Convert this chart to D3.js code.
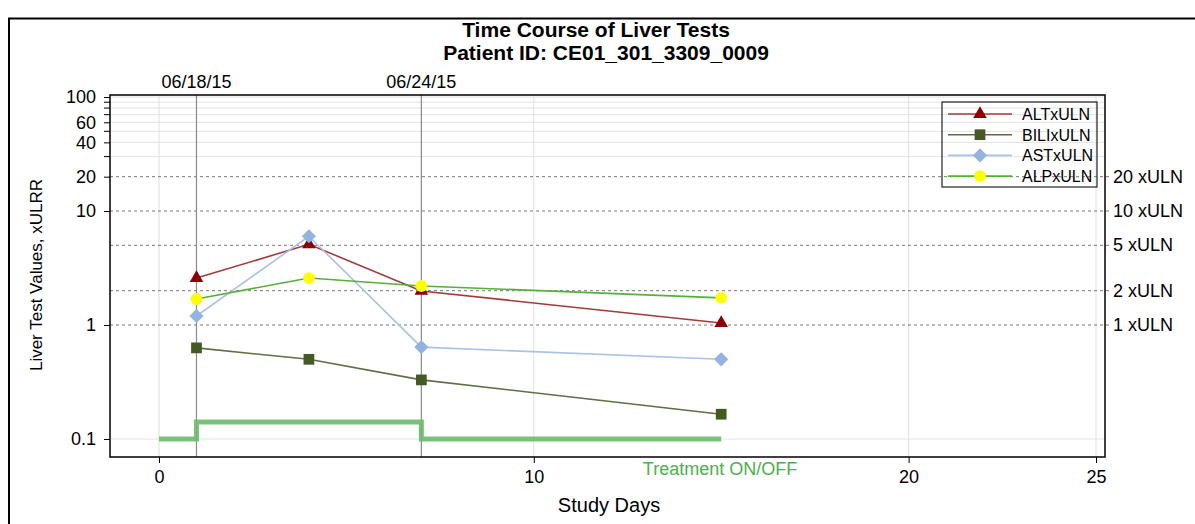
<!DOCTYPE html>
<html>
<head>
<meta charset="utf-8">
<script src="https://cdn.jsdelivr.net/npm/d3@7"></script>
<style>
  body { margin: 0; background: #fff; }
  svg { display: block; font-family: "Liberation Sans", Arial, sans-serif; }
</style>
</head>
<body>
<div id="chart"></div>
<script>
'use strict';

// study days of the visits
var days = [1, 4, 7, 15];
var altValues = [2.58, 5.1, 1.99, 1.04];
var biliValues = [0.63, 0.5, 0.33, 0.165];
var astValues = [1.2, 6.0, 0.64, 0.5];
var alpValues = [1.69, 2.58, 2.2, 1.73];

// treatment on/off step (day, level)
var treatDays = [0, 1, 1, 7, 7, 15];
var treatLevels = [0.1, 0.1, 0.141, 0.141, 0.1, 0.1];

var refLines = [20, 10, 5, 2, 1];
var refLabels = ['20 xULN', '10 xULN', '5 xULN', '2 xULN', '1 xULN'];
var visitDays = [1, 7];
var visitLabels = ['06/18/15', '06/24/15'];
var xTicks = [0, 10, 20, 25];
var yTicks = [0.1, 1, 10, 20, 40, 60, 100];
var yMinor = [30, 50, 70, 80, 90];

var series = [
  {name: 'ALTxULN', values: altValues, color: '#8b0000', line: '#a23a3a', symbol: d3.symbolTriangle, size: 80, rot: 0},
  {name: 'BILIxULN', values: biliValues, color: '#445a22', line: '#5f6e45', symbol: d3.symbolSquare, size: 115, rot: 0},
  {name: 'ASTxULN', values: astValues, color: '#93b3e0', line: '#a9c2e6', symbol: d3.symbolSquare, size: 100, rot: 45},
  {name: 'ALPxULN', values: alpValues, color: '#ffff00', line: '#55b03a', symbol: d3.symbolCircle, size: 110, rot: 0}
];

var W = 1195, H = 524;
var plot = {left: 110, right: 1105, top: 95, bottom: 457};

var svg = d3.select('#chart').append('svg')
  .attr('width', W)
  .attr('height', H);

// outer frame (only top and left visible)
svg.append('path')
  .attr('d', 'M9,' + H + 'V18.5H' + W)
  .attr('fill', 'none')
  .attr('stroke', '#000')
  .attr('stroke-width', 2);

var x = d3.scaleLinear()
  .domain([-49 / 37.48, 25 + 9 / 37.48])
  .range([plot.left, plot.right]);

var y = d3.scaleLog()
  .domain([Math.pow(10, -1 - 18 / 114), Math.pow(10, 2 + 2 / 114)])
  .range([plot.bottom, plot.top]);

// titles
svg.append('text')
  .attr('x', 596).attr('y', 37)
  .attr('text-anchor', 'middle')
  .style('font-size', '21px').style('font-weight', 'bold')
  .text('Time Course of Liver Tests');
svg.append('text')
  .attr('x', 606).attr('y', 60)
  .attr('text-anchor', 'middle')
  .style('font-size', '21px').style('font-weight', 'bold')
  .text('Patient ID: CE01_301_3309_0009');

// grid
var grid = svg.append('g');
grid.selectAll('.hg')
  .data(yTicks.concat(yMinor).filter(function(d) { return refLines.indexOf(d) < 0; }))
  .enter().append('line')
  .attr('x1', plot.left).attr('x2', plot.right)
  .attr('y1', function(d) { return y(d); })
  .attr('y2', function(d) { return y(d); })
  .attr('stroke', '#e3e3e3');
grid.selectAll('.vg')
  .data(xTicks)
  .enter().append('line')
  .attr('x1', function(d) { return x(d); })
  .attr('x2', function(d) { return x(d); })
  .attr('y1', plot.top).attr('y2', plot.bottom)
  .attr('stroke', '#e0e0e0');

// reference lines
grid.selectAll('.ref')
  .data(refLines)
  .enter().append('line')
  .attr('x1', plot.left).attr('x2', plot.right + 5)
  .attr('y1', function(d) { return y(d); })
  .attr('y2', function(d) { return y(d); })
  .attr('stroke', '#777')
  .attr('stroke-dasharray', '3,3');
svg.selectAll('.refLab')
  .data(refLines)
  .enter().append('text')
  .attr('x', plot.right + 8)
  .attr('y', function(d) { return y(d) + 6; })
  .style('font-size', '18px')
  .text(function(d, i) { return refLabels[i]; });

// visit lines
svg.selectAll('.visit')
  .data(visitDays)
  .enter().append('line')
  .attr('x1', function(d) { return x(d); })
  .attr('x2', function(d) { return x(d); })
  .attr('y1', plot.top).attr('y2', plot.bottom)
  .attr('stroke', '#8a8a8a').attr('stroke-width', 1.2);
svg.selectAll('.visitLab')
  .data(visitDays)
  .enter().append('text')
  .attr('x', function(d) { return x(d); })
  .attr('y', 88)
  .attr('text-anchor', 'middle')
  .style('font-size', '18px')
  .text(function(d, i) { return visitLabels[i]; });

// treatment step line
var treat = treatDays.map(function(d, i) { return [d, treatLevels[i]]; });
svg.append('path')
  .datum(treat)
  .attr('d', d3.line().x(function(d) { return x(d[0]); }).y(function(d) { return y(d[1]); }))
  .attr('fill', 'none')
  .attr('stroke', '#6cbb6c')
  .attr('stroke-opacity', 0.9)
  .attr('stroke-width', 5);
svg.append('text')
  .attr('x', 720).attr('y', 475)
  .attr('text-anchor', 'middle')
  .attr('fill', '#4cb04c')
  .style('font-size', '18px')
  .text('Treatment ON/OFF');

// series
var lineGen = d3.line()
  .x(function(d) { return x(d[0]); })
  .y(function(d) { return y(d[1]); });

series.forEach(function(s) {
  var pts = days.map(function(d, i) { return [d, s.values[i]]; });
  svg.append('path')
    .datum(pts)
    .attr('d', lineGen)
    .attr('fill', 'none')
    .attr('stroke', s.line)
    .attr('stroke-width', 1.6);
});
series.forEach(function(s) {
  var pts = days.map(function(d, i) { return [d, s.values[i]]; });
  svg.selectAll(null)
    .data(pts)
    .enter().append('path')
    .attr('transform', function(d) { return 'translate(' + x(d[0]) + ',' + y(d[1]) + ') rotate(' + s.rot + ')'; })
    .attr('d', d3.symbol().type(s.symbol).size(s.size))
    .attr('fill', s.color);
});

// axes
var yAxis = d3.axisLeft(y)
  .tickValues(yTicks)
  .tickFormat(function(d) { return String(d); })
  .tickSize(6).tickPadding(8);
var yAx = svg.append('g')
  .attr('transform', 'translate(' + plot.left + ',0)')
  .call(yAxis);
yAx.select('.domain').remove();
yAx.selectAll('.minor')
  .data(yMinor)
  .enter().append('line')
  .attr('x1', -6).attr('x2', 0)
  .attr('y1', function(d) { return y(d); })
  .attr('y2', function(d) { return y(d); })
  .attr('stroke', '#000');

var xAxis = d3.axisBottom(x)
  .tickValues(xTicks)
  .tickSize(6).tickPadding(7);
var xAx = svg.append('g')
  .attr('transform', 'translate(0,' + plot.bottom + ')')
  .call(xAxis);
xAx.select('.domain').remove();

svg.selectAll('.tick text').style('font-size', '18px').style('font-family', '"Liberation Sans", Arial, sans-serif');

// plot frame
svg.append('rect')
  .attr('x', plot.left).attr('y', plot.top)
  .attr('width', plot.right - plot.left)
  .attr('height', plot.bottom - plot.top)
  .attr('fill', 'none')
  .attr('stroke', '#000')
  .attr('stroke-width', 1.5);

// axis labels
svg.append('text')
  .attr('transform', 'translate(42,275) rotate(-90)')
  .attr('text-anchor', 'middle')
  .style('font-size', '17px')
  .text('Liver Test Values, xULRR');
svg.append('text')
  .attr('x', 609).attr('y', 512)
  .attr('text-anchor', 'middle')
  .style('font-size', '20px')
  .text('Study Days');

// legend
var lg = svg.append('g').attr('transform', 'translate(942,102)');
lg.append('rect')
  .attr('width', 155).attr('height', 85)
  .attr('fill', 'none')
  .attr('stroke', '#222').attr('stroke-width', 1.2);
var items = lg.selectAll('.item')
  .data(series)
  .enter().append('g')
  .attr('transform', function(d, i) { return 'translate(0,' + (12 + i * 20.7) + ')'; });
items.append('line')
  .attr('x1', 6).attr('x2', 70)
  .attr('stroke', function(d) { return d.line; })
  .attr('stroke-width', 1.6);
items.append('path')
  .attr('transform', function(d) { return 'translate(38,0) rotate(' + d.rot + ')'; })
  .attr('d', function(d) { return d3.symbol().type(d.symbol).size(d.size)(); })
  .attr('fill', function(d) { return d.color; });
items.append('text')
  .attr('x', 80).attr('y', 6)
  .style('font-size', '16px')
  .text(function(d) { return d.name; });
</script>
</body>
</html>
